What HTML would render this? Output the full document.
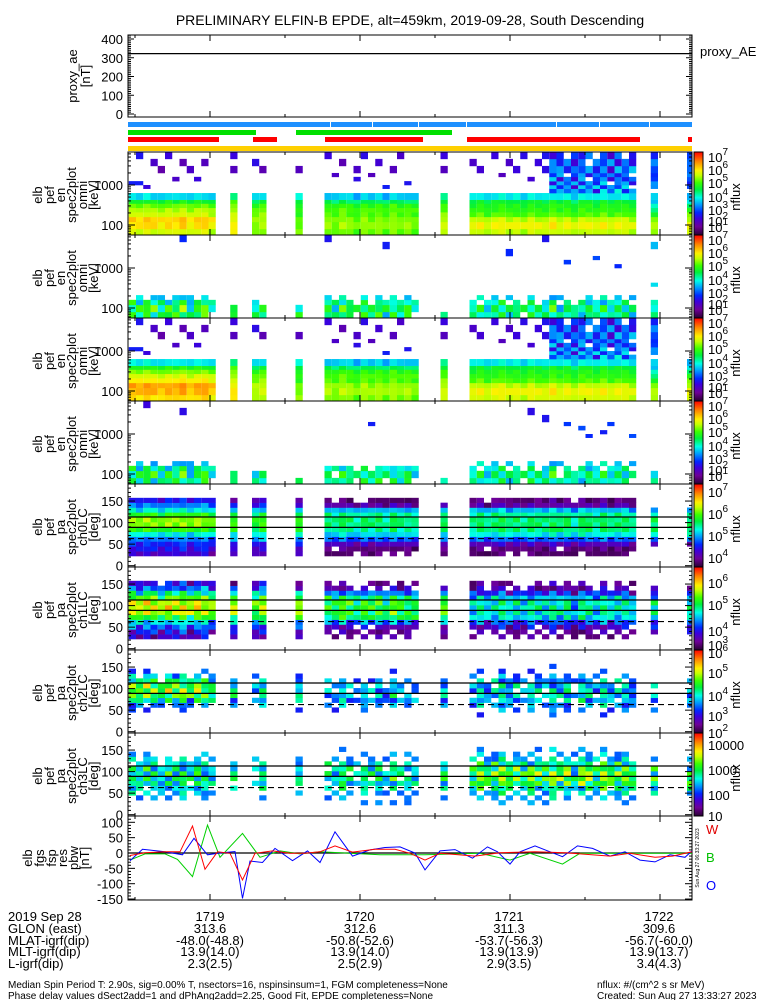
<!DOCTYPE html>
<html><head><meta charset="utf-8"><style>
html,body{margin:0;padding:0;background:#fff;}
svg{display:block;font-family:"Liberation Sans",sans-serif;}
</style></head><body>
<svg id="chart" width="775" height="1000" viewBox="0 0 775 1000" xmlns="http://www.w3.org/2000/svg">
<defs>
<linearGradient id="cbar" x1="0" y1="1" x2="0" y2="0">
<stop offset="0" stop-color="rgb(40,0,50)"/><stop offset="0.1" stop-color="rgb(110,0,150)"/><stop offset="0.2" stop-color="rgb(60,0,220)"/><stop offset="0.27" stop-color="rgb(0,40,255)"/><stop offset="0.36" stop-color="rgb(0,150,255)"/><stop offset="0.45" stop-color="rgb(0,255,230)"/><stop offset="0.55" stop-color="rgb(0,240,60)"/><stop offset="0.63" stop-color="rgb(60,255,0)"/><stop offset="0.72" stop-color="rgb(200,255,0)"/><stop offset="0.78" stop-color="rgb(255,240,0)"/><stop offset="0.88" stop-color="rgb(255,140,0)"/><stop offset="1" stop-color="rgb(255,0,0)"/>
</linearGradient>
</defs>
<text x="410" y="25" font-size="14" text-anchor="middle">PRELIMINARY ELFIN-B EPDE, alt=459km, 2019-09-28, South Descending</text>
<g id="layer"></g>
<g font-size="13">
<text x="8" y="921">2019 Sep 28</text><text x="8" y="933">GLON (east)</text><text x="8" y="945">MLAT-igrf(dip)</text><text x="8" y="956">MLT-igrf(dip)</text><text x="8" y="968">L-igrf(dip)</text>
<g text-anchor="middle">
<text x="210" y="921">1719</text><text x="360" y="921">1720</text><text x="509" y="921">1721</text><text x="659" y="921">1722</text>
<text x="210" y="933">313.6</text><text x="360" y="933">312.6</text><text x="509" y="933">311.3</text><text x="659" y="933">309.6</text>
<text x="210" y="945">-48.0(-48.8)</text><text x="360" y="945">-50.8(-52.6)</text><text x="509" y="945">-53.7(-56.3)</text><text x="659" y="945">-56.7(-60.0)</text>
<text x="210" y="956">13.9(14.0)</text><text x="360" y="956">13.9(14.0)</text><text x="509" y="956">13.9(13.9)</text><text x="659" y="956">13.9(13.7)</text>
<text x="210" y="968">2.3(2.5)</text><text x="360" y="968">2.5(2.9)</text><text x="509" y="968">2.9(3.5)</text><text x="659" y="968">3.4(4.3)</text>
</g></g>
<g font-size="10">
<text x="8" y="988">Median Spin Period T: 2.90s, sig=0.00% T, nsectors=16, nspinsinsum=1, FGM completeness=None</text>
<text x="8" y="999">Phase delay values dSect2add=1 and dPhAng2add=2.25, Good Fit, EPDE completeness=None</text>
<text x="597" y="988">nflux: #/(cm^2 s sr MeV)</text>
<text x="597" y="999">Created: Sun Aug 27 13:33:27 2023</text>
</g>
<text x="706" y="834" font-size="13" fill="#e00000">W</text>
<text x="706" y="862" font-size="13" fill="#00c000">B</text>
<text x="706" y="890" font-size="13" fill="#0000ff">O</text>
<text x="699" y="858" font-size="5" transform="rotate(-90 699 858)" text-anchor="middle">Sun Aug 27 06:33:27 2023</text>
<text x="700" y="56" font-size="13">proxy_AE</text>
</svg>
<script>
// ---- data ----
const segments = [['A',0,11],['B',14,14],['C',17,18],['D',23,23],['E',27,39],['F',43,43],['G',47,69],['H',72,72],['I',77,77]];
const cols = [0,1,2,3,4,5,6,7,8,9,10,11,14,17,18,23,27,28,29,30,31,32,33,34,35,36,37,38,39,43,47,48,49,50,51,52,53,54,55,56,57,58,59,60,61,62,63,64,65,66,67,68,69,72,77];
const colVar = [0.1,-0.2,0.3,0,-0.4,0.2,-0.1,0.4,-0.3,0.1,0.2,-0.5,0.1,-0.2,0.3,0,0.2,-0.3,0.4,0.1,-0.6,0.3,-0.1,0.2,-0.4,0.5,-0.2,0.1,-0.3,0.2,-0.1,0.3,-0.5,0.2,0.4,-0.2,0.1,-0.4,0.3,0,-0.3,0.5,-0.1,0.2,-0.6,0.3,0.1,-0.2,0.4,-0.3,0.2,0.1,-0.4,0.2,0.1];
const binVar = [0.3,-0.5,0.1,-0.9,0.4,-0.2,0.6,-0.7,0.2,-0.4,0.5,-1.0,0.0,0.3,-0.6,0.2,-0.3];
const energyEdges = [50,80,120,160,210,270,345,430,630,810,1000,1250,1600,2000,3000,4500,7000];
const p1Profiles = {A:[5.4,5.8,5.9,5.4,5.2,4.9,4.4,3.4],B:[5.6,5.6,5.5,5.3,5.2,4.9,4.7,4.0],C:[5.0,5.1,5.2,5.0,4.9,4.7,4.2,3.4],D:[5.0,4.9,4.8,4.6,4.5,4.4,4.3,3.6],E:[4.9,5.1,5.0,4.8,4.8,4.6,4.1,3.3],F:[5.2,5.3,5.2,5.0,4.8,4.6,4.2,3.9],G:[5.3,5.6,5.3,4.8,4.6,4.5,4.3,3.5],H:[5.0,5.2,4.9,4.5,4.0,3.6,3.3,3.2,null,2.9,2.9,2.5,2.3,2.6,2.8,2.2],I:[5.5,5.5,5.2,5.0,4.5,4.1,3.4,3.2,null,2.5,2.3,2.6,2.9,2.7,2.9,2.6]};
const p3Profiles = {A:[5.8,6.1,6.2,5.7,5.4,5.0,4.5,3.5],B:[5.7,5.7,5.6,5.3,5.2,4.9,4.7,4.0],C:[5.2,5.3,5.3,5.0,4.9,4.7,4.2,3.4],D:[5.1,5.0,4.9,4.6,4.5,4.4,4.3,3.6],E:[5.0,5.2,5.1,4.8,4.8,4.6,4.1,3.3],F:[5.3,5.3,5.2,5.0,4.8,4.6,4.2,3.9],G:[5.4,5.6,5.3,4.8,4.6,4.5,4.3,3.5],H:[5.1,5.2,4.9,4.5,4.0,3.6,3.3,3.2,null,2.9,2.9,2.5,2.3,2.6,2.8,2.2],I:[5.5,5.5,5.2,5.0,4.5,4.1,3.4,3.2]};
const p2Profiles = {A:[4.3,4.5,4.0,3.2],B:[4.3,4.0],C:[4.2,4.0,3.5],D:[4.4,4.0],E:[4.1,4.3,3.8,3.0],F:[3.8],G:[3.9,4.1,3.6,2.9],H:[3.8,3.6,3.4],I:[3.6]};
const p4Profiles = {A:[4.0,4.3,3.9,3.0],B:[4.0,3.8],C:[3.9,3.7],D:[4.0],E:[3.9,4.0,3.6],F:[3.6],G:[3.8,4.0,3.5,2.9],H:[3.7,3.4],I:[3.5]};
const gHighProfile = [null,null,null,null,null,null,null,null,3.0,2.9,2.8,2.6,2.7,2.8,2.6,2.3];
const p1Sparse = [[1,15,2.2],[3,14,1.8],[5,15,2.0],[7,14,1.6],[8,13,1.8],[2,9,2.0],[4,13,1.5],[9,11,2.0],[10,14,1.7],[0,10,2.3],[1,10,2.3],[6,11,1.8],[14,15,2.0],[14,13,1.7],[17,14,2.1],[18,13,1.6],[23,13,1.7],[27,15,2.0],[28,12,1.8],[29,14,1.6],[31,13,1.8],[32,15,2.1],[33,12,1.7],[34,14,1.9],[36,13,1.7],[37,15,1.8],[38,10,2.2],[35,9,2.3],[31,11,2.1],[43,15,2.0],[43,13,1.7],[47,14,1.8],[48,13,1.9],[50,15,2.0],[51,12,1.7],[52,14,1.8],[53,13,2.0],[54,15,2.1],[55,11,1.9],[56,14,2.0],[57,13,2.1],[57,15,2.2]];
const p2Sparse = [[27,15,2.2],[35,14,2.3],[52,13,2.4],[57,15,2.2],[60,11,2.5],[64,12,2.6],[67,10,2.4],[72,14,3.2],[72,6,3.4],[7,15,2.4]];
const p4Sparse = [[33,12,2.3],[57,13,2.2],[60,12,2.5],[62,11,2.6],[63,9,2.4],[65,10,2.3],[66,12,2.5],[55,14,2.1],[69,9,2.6],[2,15,2.0],[7,14,2.1]];
const paEdges = [22.5,33.75,45,56.25,67.5,78.75,90,101.25,112.5,123.75,135,146.25,157.5];
const p5Profiles = {A:[4.3,4.5,4.6,4.9,5.3,5.9,6.2,6.2,5.9,5.3,4.9,4.5],B:[4.2,4.3,4.5,5.0,5.3,5.8,5.9,5.9,5.7,5.1,4.5,4.2],E:[3.8,3.9,4.2,4.8,5.2,5.5,5.6,5.6,5.5,5.1,4.1,3.8],G:[3.8,3.9,4.2,4.8,5.3,5.6,5.6,5.6,5.5,5.1,4.1,3.9],H:[null,null,4.1,4.9,5.4,5.6,5.6,5.6,5.4,4.9,null,null]};
const p6Profiles = {A:[3.9,4.1,4.4,4.8,5.3,5.8,5.9,5.8,5.5,5.0,4.4,4.0],B:[3.8,4.0,4.3,4.7,5.2,5.6,5.7,5.6,5.3,4.8,4.2,3.9],E:[3.5,3.6,3.8,4.5,5.2,5.3,5.3,5.3,5.1,4.5,3.7,3.5],G:[3.5,3.6,3.9,4.3,4.8,4.9,4.9,4.9,4.7,4.2,3.7,3.5],H:[null,3.8,4.1,4.4,4.8,5.0,5.0,4.9,4.4,4.0,3.7,null]};
const p7Profiles = {A:[null,null,2.5,3.2,4.0,4.5,4.7,4.5,4.1,3.4,2.6,null],B:[null,null,2.6,3.0,3.5,3.8,3.8,3.6,3.3,2.8,null,null],E:[null,2.2,2.6,3.0,3.4,3.4,3.4,3.2,3.0,2.6,2.2,null],G:[2.2,2.4,2.8,3.2,3.5,3.6,3.6,3.5,3.3,2.9,2.4,2.2],H:[null,null,3.0,3.2,3.4,3.4,3.3,3.2,3.0,null,null,null]};
const p8Profiles = {A:[null,1.8,2.2,2.4,2.6,2.7,2.7,2.6,2.4,2.2,1.8,null],B:[null,1.7,2.0,2.2,2.4,2.5,2.5,2.4,2.2,2.0,null,null],E:[1.6,1.8,2.0,2.3,2.5,2.6,2.6,2.5,2.3,2.0,1.7,1.6],G:[1.8,2.0,2.2,2.6,3.0,3.2,3.2,3.0,2.7,2.2,1.9,1.7],H:[null,null,2.4,2.8,3.0,3.0,2.8,2.6,null,2.0,null,null]};
const proxyAE = 322;
const blueT = [28,33,42,49,53.6,59,64,70,73,76,81,86,93,99,104,110,117,124,130,136,142,146,152,158,165,171,175,180,184,190,196,201,207,213,220,226,232,238,244,250,253];
const blueV = [-25,12,4,-6,48,-6,0,5,-148,-26,-31,15,-25,7,-31,69,-10,10,18,20,0,-55,7,11,-17,20,4,-36,4,23,4,-12,23,15,-10,4,-23,-29,-6,-14,7];
const redT = [28,34,42,48,53,58,63,68,73,78,85,92,98,104,110,117,126,134,140,146,152,166,176,190,202,220,228,238,245,253];
const redV = [-8,1,4,4,88,-53,4,-1,-88,-1,7,-1,-1,4,23,3,12,12,-1,-23,-1,-10,1,4,1,-10,-1,-14,-10,4];
const greenT = [28,34,42,47,53,59,64,73,80,88,96,104,116,128,146,168,180,188,201,208,238,253];
const greenV = [-23,-3,-3,-21,-77,91,-14,64,-14,7,-3,4,-1,-6,-6,-1,-23,-1,-36,-1,-1,-1];
const minuteTicks = [60,120,180,240];
const blueBarGaps = [331,373,419,467,557,600,650];
const greenBarRuns = [[128,256],[296,452]];
const redBarRuns = [[128,219],[253,277],[325,423],[467,640],[688,692]];

// ---- helpers ----
const NS='http://www.w3.org/2000/svg';
const layer=document.getElementById('layer');
const X0=128, X1=692;
function xOf(t){return X0+(t-27.2)*2.5;}
function mk(tag,attrs,parent){const e=document.createElementNS(NS,tag);for(const k in attrs)e.setAttribute(k,attrs[k]);(parent||layer).appendChild(e);return e;}
const cstops=[[0,[40,0,50]],[0.1,[110,0,150]],[0.2,[60,0,220]],[0.27,[0,40,255]],[0.36,[0,150,255]],[0.45,[0,255,230]],[0.55,[0,240,60]],[0.63,[60,255,0]],[0.72,[200,255,0]],[0.78,[255,240,0]],[0.88,[255,140,0]],[1,[255,0,0]]];
function cmap(f){f=Math.max(0,Math.min(1,f));for(let i=1;i<cstops.length;i++){if(f<=cstops[i][0]){const a=cstops[i-1],b=cstops[i];const u=(f-a[0])/(b[0]-a[0]);const c=a[1].map((v,j)=>Math.round(v+(b[1][j]-v)*u));return 'rgb('+c.join(',')+')';}}return 'rgb(255,0,0)';}
function segOf(k){for(const s of segments){if(k>=s[1]&&k<=s[2])return s[0];}return null;}
const fallback={B:'A',C:'B',D:'B',F:'E',I:'H',H:'G'};
function profFor(pr,s){let cur=s;while(cur&&!pr[cur])cur=fallback[cur];return cur?pr[cur]:null;}
function yE(E,top){return top+73-40*Math.log10(E/100);}
function yPA(pa,top){return top+81.7-pa*0.431;}

function text(x,y,str,size,anchor,rot){const t=mk('text',{x:x,y:y,'font-size':size||13,'text-anchor':anchor||'start'});if(rot)t.setAttribute('transform','rotate(-90 '+x+' '+y+')');t.textContent=str;return t;}
function line(x1,y1,x2,y2,w,dash,color){const l=mk('line',{x1:x1,y1:y1,x2:x2,y2:y2,stroke:color||'#000','stroke-width':w||1});if(dash)l.setAttribute('stroke-dasharray',dash);return l;}

function timeTicks(top,bot){
  for(const t of minuteTicks){const x=xOf(t);line(x,top,x,top+6);line(x,bot,x,bot-6);}
  for(let t=30;t<=250;t+=30){if(t%60===0)continue;const x=xOf(t);line(x,top,x,top+3);line(x,bot,x,bot-3);}
}
function leftLabels(lines,xs,yc,namePrefix){
  lines.forEach((s,i)=>{const t=text(xs[i],yc,s,13,'middle',true);
    
    });
}
function colorbar(top,bot,labels,nfluxY,name){
  const r=mk('rect',{x:694,y:top,width:9,height:bot-top,fill:'url(#cbar)',stroke:'#000','stroke-width':1});
  
  
  for(const L of labels){const t=mk('text',{x:708,y:L[1],'font-size':13});
    
    
    if(L[2]!==undefined){t.textContent=L[0];const s=mk('tspan',{dy:-7,'font-size':10},t);s.textContent=L[2];}
    else t.textContent=L[0];}
  const n=text(740,nfluxY,'nflux',13,'middle',true);
  
  
}

// ---- proxy AE ----
(function(){
  const top=35,bot=117;
  const y=v=>114-0.1875*v;
  const fr=mk('rect',{x:X0,y:top,width:X1-X0,height:bot-top,fill:'none',stroke:'#000'});
  
  
  for(let v=0;v<=430;v+=10){const yy=y(v);if(yy<top)break;const len=v%100===0?6:3;line(X0,yy,X0+len,yy);line(X1,yy,X1-len,yy);}
  for(let v=0;v<=400;v+=100){const t=text(123,y(v)+5,String(v),13,'end');
    
    }
  const l=line(X0,y(proxyAE),X1,y(proxyAE),1.2);
  
  
  timeTicks(top,bot);
  leftLabels(['proxy_ae','[nT]'],[77,90],76,'proxy-ae');
})();

// ---- status bars ----
(function(){
  let prev=X0;
  for(const g of blueBarGaps.concat([X1+1])){const r=mk('rect',{x:prev,y:122,width:g-prev-1,height:5,fill:'#1e90ff'});
    
    
    prev=g;}
  for(const s of greenBarRuns){const r=mk('rect',{x:s[0],y:130,width:s[1]-s[0],height:5,fill:'#00e000'});
    
    }
  for(const s of redBarRuns){const r=mk('rect',{x:s[0],y:137,width:s[1]-s[0],height:5,fill:'#ff0000'});
    
    }
  const y=mk('rect',{x:X0,y:146,width:X1-X0,height:5,fill:'#ffd000'});
  
  
})();

// ---- spectrogram panels ----
const cbarE=[['10',10,'7'],['10',23,'6'],['10',36,'5'],['10',50,'4'],['10',63,'3'],['10',74,'2'],['10',80,'1']];
const specPanels=[
 {name:'omni-panel',top:152,type:'E',prof:p1Profiles,vmin:0.7,vmax:7.1,amp:0.3,amp2:0.15,thr:1.2,sparse:p1Sparse,high:true,labels:['elb','pef','en','spec2plot','omni','[keV]'],cb:cbarE},
 {name:'omni2-panel',top:235,type:'E',prof:p2Profiles,vmin:0.7,vmax:7.1,amp:0.8,amp2:1.0,thr:3.0,sparse:p2Sparse,labels:['elb','pef','en','spec2plot','omni','[keV]'],cb:cbarE},
 {name:'omni3-panel',top:318,type:'E',prof:p3Profiles,vmin:0.7,vmax:7.1,amp:0.3,amp2:0.15,thr:1.2,sparse:p1Sparse,high:true,labels:['elb','pef','en','spec2plot','omni','[keV]'],cb:cbarE},
 {name:'omni4-panel',top:401,type:'E',prof:p4Profiles,vmin:0.7,vmax:7.1,amp:0.8,amp2:1.0,thr:3.0,sparse:p4Sparse,labels:['elb','pef','en','spec2plot','omni','[keV]'],cb:cbarE},
 {name:'ch0lc-panel',top:484,type:'PA',prof:p5Profiles,vmin:3.6,vmax:7.4,amp:0.25,amp2:0.2,thr:3.7,labels:['elb','pef','pa','spec2plot','ch0LC','[deg]'],cb:[['10',13,'7'],['10',35,'6'],['10',57,'5'],['10',79,'4']]},
 {name:'ch1lc-panel',top:567,type:'PA',prof:p6Profiles,vmin:3.3,vmax:6.7,amp:0.4,amp2:0.45,thr:3.45,labels:['elb','pef','pa','spec2plot','ch1LC','[deg]'],cb:[['10',21,'6'],['10',43,'5'],['10',69,'4'],['10',83,'3']]},
 {name:'ch2lc-panel',top:650,type:'PA',prof:p7Profiles,vmin:1.9,vmax:6.1,amp:0.8,amp2:0.9,thr:2.9,labels:['elb','pef','pa','spec2plot','ch2LC','[deg]'],cb:[['10',8,'6'],['10',28,'5'],['10',51,'4'],['10',71,'3'],['10',88,'2']]},
 {name:'ch3lc-panel',top:733,type:'PA',prof:p8Profiles,vmin:0.9,vmax:4.5,amp:0.6,amp2:0.8,thr:2.0,labels:['elb','pef','pa','spec2plot','ch3LC','[deg]'],cb:[['10000',17],['1000',42],['100',67],['10',88]]}
];
function cell(p,k,b,v){
  const edges=p.type==='E'?energyEdges:paEdges;
  const yf=p.type==='E'?(e=>yE(e,p.top)):(e=>yPA(e,p.top));
  let y1=yf(edges[b+1]),y2=yf(edges[b]);
  y1=Math.max(y1,p.top);y2=Math.min(y2,p.top+83);
  if(y2<=y1)return;
  const x=xOf(27.5+2.9*k);const w=Math.min(7.25,X1-x);
  if(w<=0)return;
  const r=mk('rect',{x:x.toFixed(2),y:y1.toFixed(2),width:w.toFixed(2),height:(y2-y1+0.3).toFixed(2),fill:cmap((v-p.vmin)/(p.vmax-p.vmin))});
  
  
}
for(const p of specPanels){
  const top=p.top,bot=p.top+83;
  cols.forEach((k,c)=>{
    const prof=profFor(p.prof,segOf(k));
    if(!prof)return;
    prof.forEach((base,b)=>{if(base==null)return;
      const v=base+colVar[c]*p.amp+binVar[(b*3+c)%17]*p.amp2;
      if(v<p.thr)return;cell(p,k,b,v);});
    if(p.high&&k>=58&&k<=69){gHighProfile.forEach((base,b)=>{if(base==null)return;
      const v=base+colVar[c]*0.3+binVar[(b*3+c)%17]*1.0;if(v<1.8)return;cell(p,k,b,v);});}
  });
  if(p.sparse)for(const s of p.sparse)cell(p,s[0],s[1],s[2]);
  const fr=mk('rect',{x:X0,y:top,width:X1-X0,height:83,fill:'none',stroke:'#000'});
  
  
  timeTicks(top,bot);
  if(p.type==='E'){
    for(const dec of [10,100,1000]){for(let m=1;m<10;m++){const e=dec*m;const yy=yE(e,top);if(yy<top||yy>bot)continue;const len=m===1?7:3;line(X0,yy,X0+len,yy);line(X1,yy,X1-len,yy);}}
    for(const e of [100,1000]){const t=text(123,yE(e,top)+5,String(e),13,'end');
      
      }
  } else {
    for(let a=0;a<=185;a+=10){const yy=yPA(a,top);const len=a%50===0?7:3;line(X0,yy,X0+len,yy);line(X1,yy,X1-len,yy);}
    for(const a of [0,50,100,150]){const t=text(123,yPA(a,top)+5,String(a),13,'end');
      
      }
    const l1=line(X0,yPA(113,top),X1,yPA(113,top),1.2);
    
    
    const l2=line(X0,yPA(89,top),X1,yPA(89,top),1.2);
    
    
    const l3=line(X0,yPA(63,top),X1,yPA(63,top),1.2,'6,4');
    
    
  }
  leftLabels(p.labels,[42,54,65,76,87,98],top+43,p.name);
  colorbar(top,bot,p.cb.map(L=>[L[0],top+L[1],L[2]]),top+45,p.name);
}

// ---- fgs panel ----
(function(){
  const top=816,bot=900;
  const y=v=>853-0.307*v;
  const fr=mk('rect',{x:X0,y:top,width:X1-X0,height:bot-top,fill:'none',stroke:'#000'});
  
  
  for(let v=-150;v<=110;v+=10){const yy=y(v);const len=v%50===0?7:3;line(X0,yy,X0+len,yy);line(X1,yy,X1-len,yy);}
  for(const v of [100,50,0,-50,-100,-150]){const t=text(123,y(v)+5,String(v),13,'end');
    
    }
  const z=line(X0,y(0),X1,y(0),1.2);
  
  
  function series(T,V,color,name){const pts=T.map((t,i)=>Math.min(X1,Math.max(X0,xOf(t))).toFixed(1)+','+y(V[i]).toFixed(1)).join(' ');
    const pl=mk('polyline',{points:pts,fill:'none',stroke:color,'stroke-width':1});
    
    }
  series(greenT,greenV,'#00d000','fgs-b-series');
  series(blueT,blueV,'#0000ff','fgs-o-series');
  series(redT,redV,'#ff0000','fgs-w-series');
  timeTicks(top,bot);
  leftLabels(['elb','fgs','fsp','res','pbw','[nT]'],[32,44,56,67,78,89],858,'fgs');
})();
</script>
</body></html>
